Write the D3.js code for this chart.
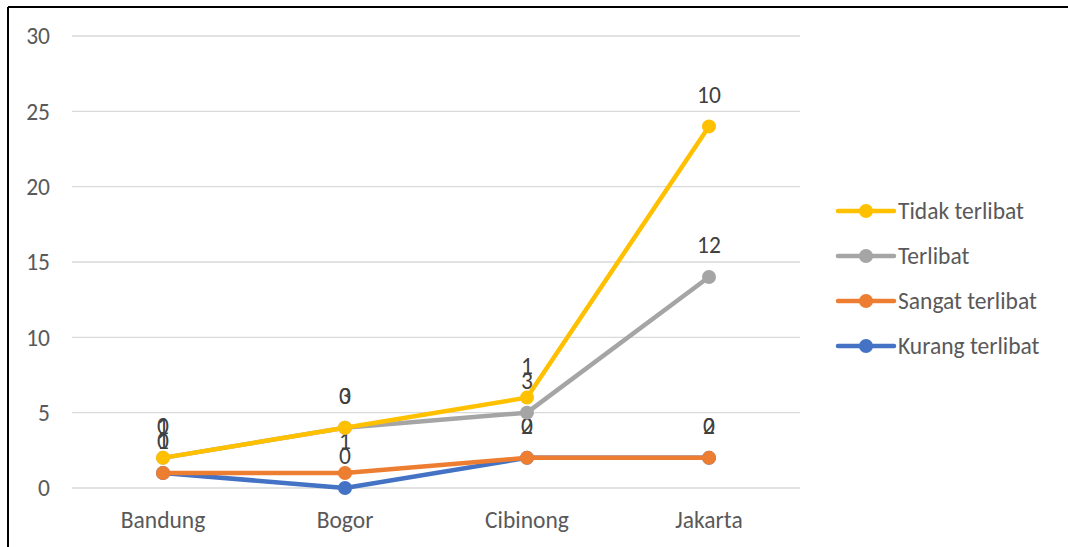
<!DOCTYPE html>
<meta charset="utf-8">
<script src="https://d3js.org/d3.v7.min.js"></script>
<style>
  body { margin: 0; background: #fff; }
  text { font-family: Carlito, Calibri, "Open Sans", sans-serif; fill: #595959; }
</style>
<div id="chart"></div>
<script>

// categories and series (individual values, Excel stacked line)
var cities = ["Bandung", "Bogor", "Cibinong", "Jakarta"]
var kurangTerlibat = [1, 0, 2, 2]
var sangatTerlibat = [0, 1, 0, 0]
var terlibat = [1, 3, 3, 12]
var tidakTerlibat = [0, 0, 1, 10]
var yTicks = [0, 5, 10, 15, 20, 25, 30]

var seriesNames = ["Kurang terlibat", "Sangat terlibat", "Terlibat", "Tidak terlibat"]
var seriesColors = ["#4472C4", "#ED7D31", "#A5A5A5", "#FFC000"]
var seriesValues = [kurangTerlibat, sangatTerlibat, terlibat, tidakTerlibat]

var W = 1068, H = 547
var fs = "23.5px"
var svg = d3.select("#chart").append("svg")
  .attr("width", W).attr("height", H)

// frame (only top and left show in the picture)
svg.append("line").attr("x1", 8).attr("x2", W).attr("y1", 7).attr("y2", 7)
  .attr("stroke", "#000").attr("stroke-width", 2)
svg.append("line").attr("x1", 8).attr("x2", 8).attr("y1", 7).attr("y2", H)
  .attr("stroke", "#000").attr("stroke-width", 2)

var x = d3.scaleBand().domain(cities).range([72, 800])
var y = d3.scaleLinear().domain([0, 30]).range([488, 36])

// gridlines
svg.selectAll(".grid").data(yTicks).enter().append("line")
  .attr("x1", 72).attr("x2", 800)
  .attr("y1", function(d) { return y(d) }).attr("y2", function(d) { return y(d) })
  .attr("stroke", "#d9d9d9").attr("stroke-width", 1.3)

// y labels
svg.selectAll(".ylab").data(yTicks).enter().append("text")
  .attr("x", 50).attr("y", function(d) { return y(d) })
  .attr("dy", "0.35em").attr("text-anchor", "end")
  .style("font-size", fs)
  .text(function(d) { return d })

// x labels
svg.selectAll(".xlab").data(cities).enter().append("text")
  .attr("x", function(d) { return x(d) + x.bandwidth() / 2 })
  .attr("y", 528).attr("text-anchor", "middle")
  .style("font-size", fs)
  .text(function(d) { return d })

// stack data
var rows = cities.map(function(c, i) {
  var r = {city: c}
  seriesNames.forEach(function(s, j) { r[s] = seriesValues[j][i] })
  return r
})
var stacked = d3.stack().keys(seriesNames)(rows)

var line = d3.line()
  .x(function(d) { return x(d.data.city) + x.bandwidth() / 2 })
  .y(function(d) { return y(d[1]) })

var g = svg.selectAll(".series").data(stacked).enter().append("g")

g.append("path")
  .attr("d", function(d) { return line(d) })
  .attr("fill", "none")
  .attr("stroke", function(d, i) { return seriesColors[i] })
  .attr("stroke-width", 4.5)
  .attr("stroke-linejoin", "round")

g.selectAll("circle").data(function(d, i) { return d.map(function(p) { return {p: p, c: seriesColors[i]} }) })
  .enter().append("circle")
  .attr("cx", function(d) { return x(d.p.data.city) + x.bandwidth() / 2 })
  .attr("cy", function(d) { return y(d.p[1]) })
  .attr("r", 7)
  .attr("fill", function(d) { return d.c })

// data labels (individual values) above points, overlapping like in Excel
g.selectAll(".lab").data(function(d) { return d.map(function(p) { return {p: p, v: p[1] - p[0]} }) })
  .enter().append("text")
  .attr("x", function(d) { return x(d.p.data.city) + x.bandwidth() / 2 })
  .attr("y", function(d) { return y(d.p[1]) - 32 })
  .attr("dy", "0.35em").attr("text-anchor", "middle")
  .style("font-size", fs).style("fill", "#404040")
  .text(function(d) { return d.v })

// legend
var legendOrder = [3, 2, 1, 0]
var lg = svg.selectAll(".legend").data(legendOrder).enter().append("g")
  .attr("transform", function(d, i) { return "translate(838," + (211 + i * 45) + ")" })
lg.append("line").attr("x1", 0).attr("x2", 56).attr("y1", 0).attr("y2", 0)
  .attr("stroke", function(d) { return seriesColors[d] }).attr("stroke-width", 4.5)
  .attr("stroke-linecap", "round")
lg.append("circle").attr("cx", 28).attr("cy", 0).attr("r", 7)
  .attr("fill", function(d) { return seriesColors[d] })
lg.append("text").attr("x", 60).attr("y", 0).attr("dy", "0.35em")
  .style("font-size", fs)
  .text(function(d) { return seriesNames[d] })

</script>
